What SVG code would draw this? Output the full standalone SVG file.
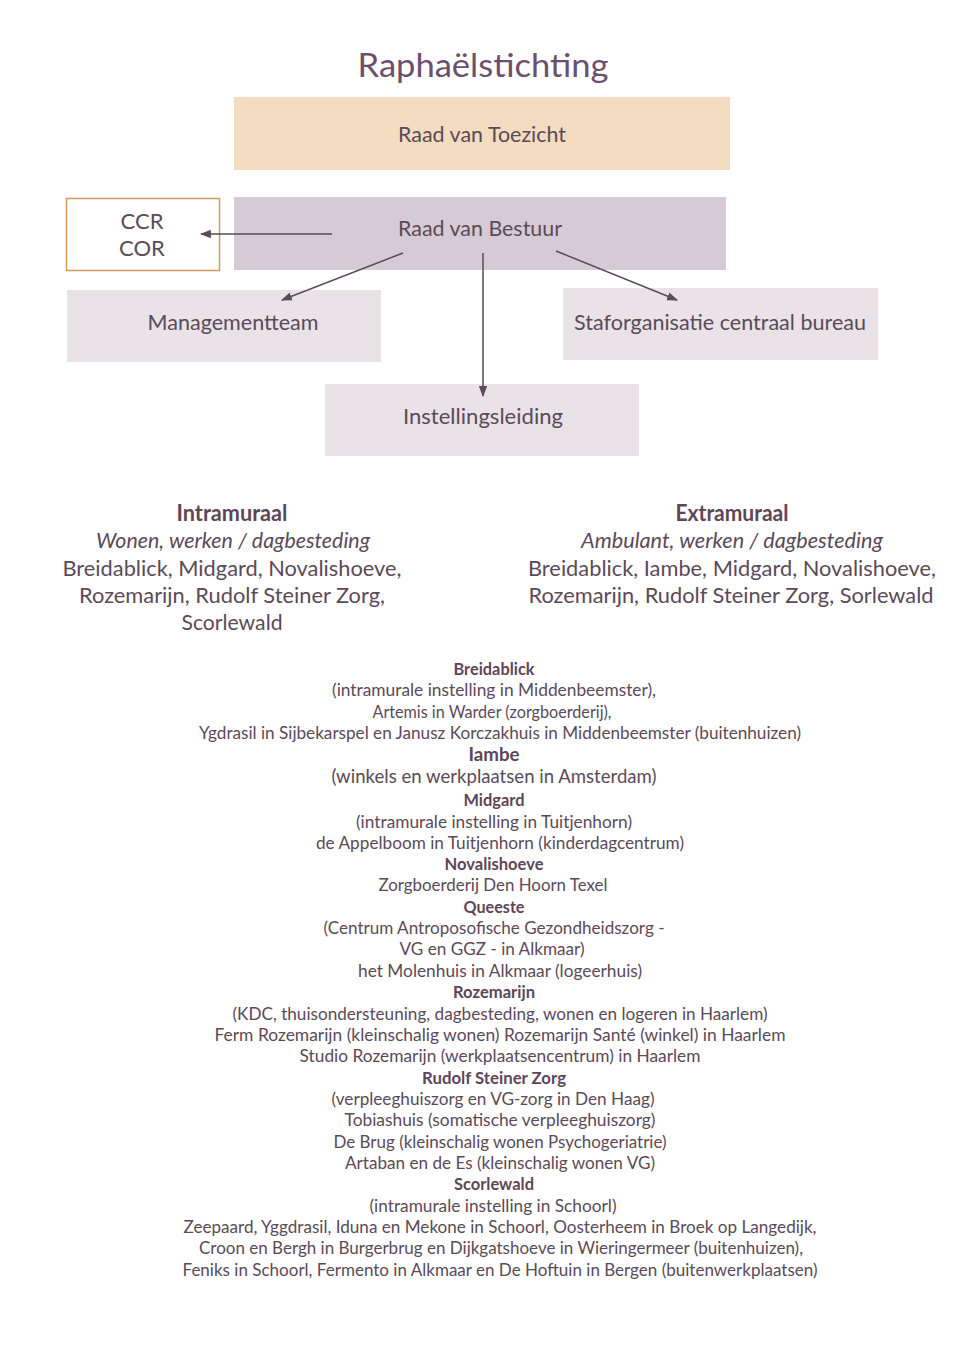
<svg xmlns="http://www.w3.org/2000/svg" width="964" height="1362" viewBox="0 0 964 1362">
<defs>
<marker id="ah" viewBox="0 0 10 10" refX="9" refY="5" markerWidth="11" markerHeight="11" markerUnits="userSpaceOnUse" orient="auto">
<path d="M0,1.2 L10,5 L0,8.8 z" fill="#5b4a5a"/>
</marker>
<style>
text{font-family:Lato,"Open Sans","Liberation Sans",sans-serif;fill:#5b4a58;text-anchor:middle}
.title{font-size:32px;fill:#6b4f6d}
.box{font-size:22px}
.hd{font-size:22px;font-weight:bold;fill:#5e4658}
.it{font-size:22px;font-style:italic}
.sec{font-size:22px}
.lh{font-size:17px;font-weight:bold;fill:#5e4658}
.l{font-size:17px}
.conn{stroke:#5b4a5a;stroke-width:1.5;fill:none;marker-end:url(#ah)}
</style>
</defs>
<rect width="964" height="1362" fill="#ffffff"/>
<text class="title" x="483" y="77" textLength="251" lengthAdjust="spacingAndGlyphs">Raphaëlstichting</text>

<g id="toezicht"><rect x="234" y="97" width="496" height="73" fill="#f3dcbf"/><text class="box" x="482" y="142" textLength="168" lengthAdjust="spacingAndGlyphs">Raad van Toezicht</text></g>
<g id="bestuur"><rect x="234" y="197" width="492" height="73" fill="#d6cbd4"/><text class="box" x="480" y="236" textLength="164" lengthAdjust="spacingAndGlyphs">Raad van Bestuur</text></g>
<g id="ccr"><rect x="66.5" y="198.5" width="153" height="72" fill="#ffffff" stroke="#d29a5e" stroke-width="1.5"/><text class="box" x="142" y="229">CCR</text><text class="box" x="142" y="256">COR</text></g>
<g id="mt"><rect x="67" y="290" width="314" height="72" fill="#e9e3e7"/><text class="box" x="233" y="330" textLength="171" lengthAdjust="spacingAndGlyphs">Managementteam</text></g>
<g id="staf"><rect x="563" y="288" width="315" height="72" fill="#e9e3e7"/><text class="box" x="720" y="330" textLength="292" lengthAdjust="spacingAndGlyphs">Staforganisatie centraal bureau</text></g>
<g id="inst"><rect x="325" y="384" width="314" height="72" fill="#e9e3e7"/><text class="box" x="483" y="424" textLength="160" lengthAdjust="spacingAndGlyphs">Instellingsleiding</text></g>

<g id="connectors">
<line class="conn" x1="332" y1="234" x2="201" y2="234"/>
<line class="conn" x1="403" y1="253" x2="282" y2="300"/>
<line class="conn" x1="483" y1="253" x2="483" y2="396"/>
<line class="conn" x1="556" y1="251" x2="677" y2="300"/>
</g>

<g id="intramuraal">
<text class="hd" x="232" y="521" textLength="111" lengthAdjust="spacingAndGlyphs">Intramuraal</text>
<text class="it" x="233" y="548" textLength="274" lengthAdjust="spacingAndGlyphs">Wonen, werken / dagbesteding</text>
<text class="sec" x="232" y="576" textLength="339" lengthAdjust="spacingAndGlyphs">Breidablick, Midgard, Novalishoeve,</text>
<text class="sec" x="232" y="603" textLength="306" lengthAdjust="spacingAndGlyphs">Rozemarijn, Rudolf Steiner Zorg,</text>
<text class="sec" x="232" y="630" textLength="101" lengthAdjust="spacingAndGlyphs">Scorlewald</text>
</g>
<g id="extramuraal">
<text class="hd" x="732" y="521" textLength="113" lengthAdjust="spacingAndGlyphs">Extramuraal</text>
<text class="it" x="732" y="548" textLength="302" lengthAdjust="spacingAndGlyphs">Ambulant, werken / dagbesteding</text>
<text class="sec" x="732" y="576" textLength="408" lengthAdjust="spacingAndGlyphs">Breidablick, Iambe, Midgard, Novalishoeve,</text>
<text class="sec" x="731" y="603" textLength="405" lengthAdjust="spacingAndGlyphs">Rozemarijn, Rudolf Steiner Zorg, Sorlewald</text>
</g>

<g id="lijst">
<text class="lh" x="494" y="675" textLength="81" lengthAdjust="spacingAndGlyphs">Breidablick</text>
<text class="l" x="494" y="696" textLength="324" lengthAdjust="spacingAndGlyphs">(intramurale instelling in Middenbeemster),</text>
<text class="l" x="492" y="718" textLength="239" lengthAdjust="spacingAndGlyphs">Artemis in Warder (zorgboerderij),</text>
<text class="l" x="500" y="739" textLength="602" lengthAdjust="spacingAndGlyphs">Ygdrasil in Sijbekarspel en Janusz Korczakhuis in Middenbeemster (buitenhuizen)</text>
<text class="lh" x="494" y="761" style="font-size:19px" textLength="51" lengthAdjust="spacingAndGlyphs">Iambe</text>
<text class="l" x="494" y="783" style="font-size:19px" textLength="325" lengthAdjust="spacingAndGlyphs">(winkels en werkplaatsen in Amsterdam)</text>
<text class="lh" x="494" y="806" textLength="61" lengthAdjust="spacingAndGlyphs">Midgard</text>
<text class="l" x="494" y="828" textLength="276" lengthAdjust="spacingAndGlyphs">(intramurale instelling in Tuitjenhorn)</text>
<text class="l" x="500" y="849" textLength="368" lengthAdjust="spacingAndGlyphs">de Appelboom in Tuitjenhorn (kinderdagcentrum)</text>
<text class="lh" x="494" y="870" textLength="99" lengthAdjust="spacingAndGlyphs">Novalishoeve</text>
<text class="l" x="493" y="891" textLength="229" lengthAdjust="spacingAndGlyphs">Zorgboerderij Den Hoorn Texel</text>
<text class="lh" x="494" y="913" textLength="61" lengthAdjust="spacingAndGlyphs">Queeste</text>
<text class="l" x="494" y="934" textLength="341" lengthAdjust="spacingAndGlyphs">(Centrum Antroposofische Gezondheidszorg -</text>
<text class="l" x="492" y="955" textLength="185" lengthAdjust="spacingAndGlyphs">VG en GGZ - in Alkmaar)</text>
<text class="l" x="500" y="977" textLength="284" lengthAdjust="spacingAndGlyphs">het Molenhuis in Alkmaar (logeerhuis)</text>
<text class="lh" x="494" y="998" textLength="82" lengthAdjust="spacingAndGlyphs">Rozemarijn</text>
<text class="l" x="500" y="1020" textLength="535" lengthAdjust="spacingAndGlyphs">(KDC, thuisondersteuning, dagbesteding, wonen en logeren in Haarlem)</text>
<text class="l" x="500" y="1041" textLength="571" lengthAdjust="spacingAndGlyphs">Ferm Rozemarijn (kleinschalig wonen) Rozemarijn Santé (winkel) in Haarlem</text>
<text class="l" x="500" y="1062" textLength="401" lengthAdjust="spacingAndGlyphs">Studio Rozemarijn (werkplaatsencentrum) in Haarlem</text>
<text class="lh" x="494" y="1084" textLength="144" lengthAdjust="spacingAndGlyphs">Rudolf Steiner Zorg</text>
<text class="l" x="493" y="1105" textLength="323" lengthAdjust="spacingAndGlyphs">(verpleeghuiszorg en VG-zorg in Den Haag)</text>
<text class="l" x="500" y="1126" textLength="311" lengthAdjust="spacingAndGlyphs">Tobiashuis (somatische verpleeghuiszorg)</text>
<text class="l" x="500" y="1148" textLength="333" lengthAdjust="spacingAndGlyphs">De Brug (kleinschalig wonen Psychogeriatrie)</text>
<text class="l" x="500" y="1169" textLength="310" lengthAdjust="spacingAndGlyphs">Artaban en de Es (kleinschalig wonen VG)</text>
<text class="lh" x="494" y="1190" textLength="80" lengthAdjust="spacingAndGlyphs">Scorlewald</text>
<text class="l" x="493" y="1212" textLength="247" lengthAdjust="spacingAndGlyphs">(intramurale instelling in Schoorl)</text>
<text class="l" x="500" y="1233" textLength="633" lengthAdjust="spacingAndGlyphs">Zeepaard, Yggdrasil, Iduna en Mekone in Schoorl, Oosterheem in Broek op Langedijk,</text>
<text class="l" x="501" y="1254" textLength="604" lengthAdjust="spacingAndGlyphs">Croon en Bergh in Burgerbrug en Dijkgatshoeve in Wieringermeer (buitenhuizen),</text>
<text class="l" x="500" y="1276" textLength="635" lengthAdjust="spacingAndGlyphs">Feniks in Schoorl, Fermento in Alkmaar en De Hoftuin in Bergen (buitenwerkplaatsen)</text>
</g>
</svg>
